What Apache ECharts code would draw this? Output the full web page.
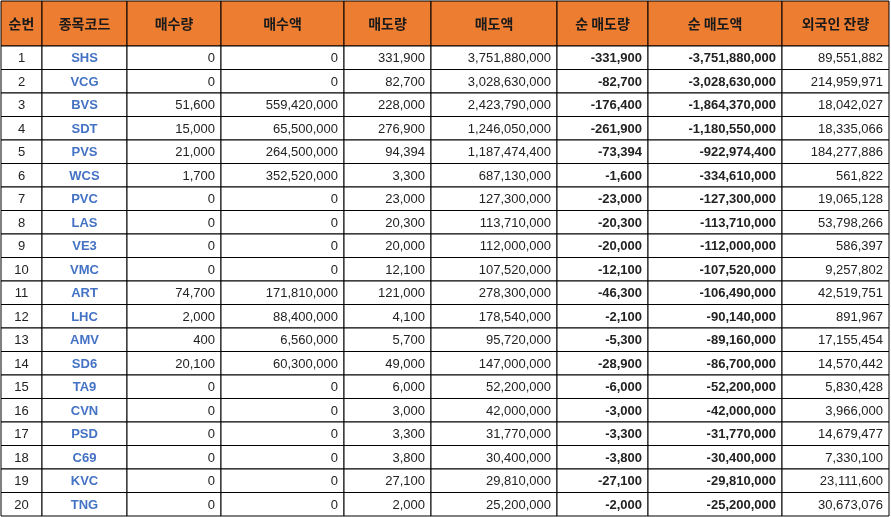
<!DOCTYPE html>
<html>
<head>
<meta charset="utf-8">
<script src="https://cdn.jsdelivr.net/npm/echarts@6/dist/echarts.min.js"></script>
<style>html,body{margin:0;padding:0;background:#fff}#chart{width:891px;height:517px}</style>
</head>
<body>
<div id="chart"></div>
<script>
var headers = ["순번", "종목코드", "매수량", "매수액", "매도량", "매도액", "순 매도량", "순 매도액", "외국인 잔량"];
var codes = ["SHS","VCG","BVS","SDT","PVS","WCS","PVC","LAS","VE3","VMC","ART","LHC","AMV","SD6","TA9","CVN","PSD","C69","KVC","TNG"];
var buyQty = [0,0,51600,15000,21000,1700,0,0,0,0,74700,2000,400,20100,0,0,0,0,0,0];
var buyAmt = [0,0,559420000,65500000,264500000,352520000,0,0,0,0,171810000,88400000,6560000,60300000,0,0,0,0,0,0];
var sellQty = [331900,82700,228000,276900,94394,3300,23000,20300,20000,12100,121000,4100,5700,49000,6000,3000,3300,3800,27100,2000];
var sellAmt = [3751880000,3028630000,2423790000,1246050000,1187474400,687130000,127300000,113710000,112000000,107520000,278300000,178540000,95720000,147000000,52200000,42000000,31770000,30400000,29810000,25200000];
var netQty = [-331900,-82700,-176400,-261900,-73394,-1600,-23000,-20300,-20000,-12100,-46300,-2100,-5300,-28900,-6000,-3000,-3300,-3800,-27100,-2000];
var netAmt = [-3751880000,-3028630000,-1864370000,-1180550000,-922974400,-334610000,-127300000,-113710000,-112000000,-107520000,-106490000,-90140000,-89160000,-86700000,-52200000,-42000000,-31770000,-30400000,-29810000,-25200000];
var foreign = [89551882,214959971,18042027,18335066,184277886,561822,19065128,53798266,586397,9257802,42519751,891967,17155454,14570442,5830428,3966000,14679477,7330100,23111600,30673076];

// layout (pixel grid)
var colX = [1, 42, 127, 221, 344, 431, 557, 648, 782, 889];
var headTop = 1, headBottom = 46, rowH = 23.5;

function fmt(v) { return v.toLocaleString('en-US'); }

var columns = [null, codes, buyQty, buyAmt, sellQty, sellAmt, netQty, netAmt, foreign];
var cells = [], texts = [];
headers.forEach(function (h, c) { cells.push([c, 0]); texts.push(h); });
codes.forEach(function (code, r) {
    for (var c = 0; c < headers.length; c++) {
        var txt = c === 0 ? String(r + 1) : (c === 1 ? code : fmt(columns[c][r]));
        cells.push([c, r + 1]);
        texts.push(txt);
    }
});

function renderCell(params, api) {
    var c = api.value(0), r = api.value(1) - 1, txt = texts[params.dataIndex];
    var y0 = r < 0 ? headTop : headBottom + r * rowH;
    var y1 = r < 0 ? headBottom : headBottom + (r + 1) * rowH;
    var p0 = api.coord([colX[c], y0]), p1 = api.coord([colX[c + 1], y1]);
    var isHead = r < 0;
    var align = (isHead || c <= 1) ? 'center' : 'right';
    var tx = align === 'center' ? (p0[0] + p1[0]) / 2 : p1[0] - 6;
    return {
        type: 'group',
        children: [{
            type: 'rect',
            shape: { x: p0[0], y: p0[1], width: p1[0] - p0[0], height: p1[1] - p0[1] },
            style: { fill: isHead ? '#ED7D31' : '#fff', stroke: '#000', lineWidth: 1 }
        }, {
            type: 'text',
            style: {
                text: txt, x: tx, y: (p0[1] + p1[1]) / 2 + (isHead ? 0 : 1),
                align: align, verticalAlign: 'middle',
                fill: isHead ? '#1a1a1a' : (c === 1 ? '#4472C4' : '#222'),
                fontSize: isHead ? 14 : 13,
                fontWeight: (isHead || c === 1 || c === 6 || c === 7) ? 'bold' : 'normal',
                fontFamily: isHead ? '"Noto Sans CJK KR", sans-serif' : '"Liberation Sans", Arial, sans-serif'
            }
        }]
    };
}

var chart = echarts.init(document.getElementById('chart'));
chart.setOption({
    animation: false,
    grid: { left: 0, top: 0, width: 891, height: 517 },
    xAxis: { type: 'value', min: 0, max: 891, show: false },
    yAxis: { type: 'value', min: 0, max: 517, inverse: true, show: false },
    series: [{
        type: 'custom',
        renderItem: renderCell,
        data: cells,
        encode: { x: 0, y: 1 }
    }]
});
</script>
</body>
</html>
